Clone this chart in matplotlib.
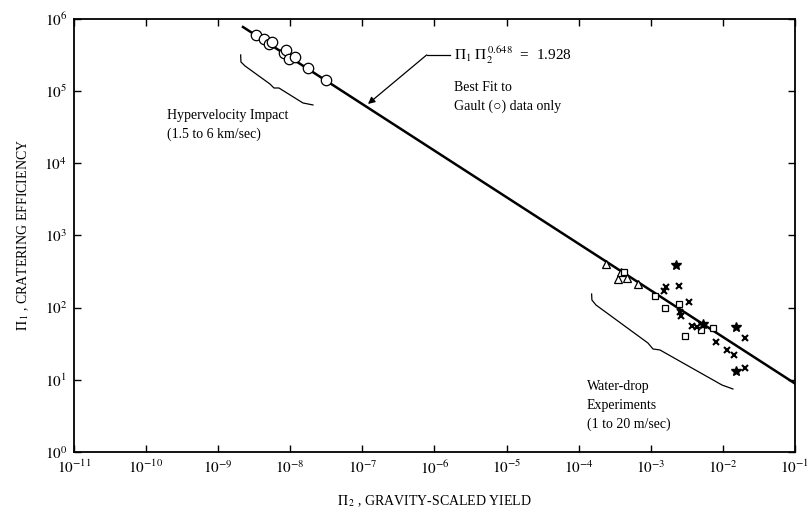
import numpy as np
import matplotlib
matplotlib.use('Agg')
import matplotlib.pyplot as plt

plt.rcParams.update({
    'font.family': ['Liberation Serif', 'DejaVu Sans'],
    'mathtext.fontset': 'stix',
    'font.size': 10,
    'axes.linewidth': 1.3,
})

# Gault hypervelocity impact data (open circles)
gault_x = [3.34e-9, 4.31e-9, 5.07e-9, 5.57e-9, 8.18e-9, 8.7e-9, 9.6e-9, 1.16e-8, 1.76e-8, 3.13e-8]
gault_y = [6.0e5, 5.28e5, 4.5e5, 4.8e5, 3.38e5, 3.72e5, 2.79e5, 2.98e5, 2.1e5, 1.43e5]

# water-drop experiments, by marker group
tri_x = [2.39e-4, 3.48e-4, 3.87e-4, 4.72e-4, 6.58e-4]
tri_y = [405, 251, 310, 256, 214]
sq_x = [4.28e-4, 1.16e-3, 1.60e-3, 2.44e-3, 3.03e-3, 4.97e-3, 7.36e-3]
sq_y = [310, 144, 100, 112, 41, 49.3, 51.7]
cross_x = [1.65e-3, 1.53e-3, 2.46e-3, 3.39e-3, 2.54e-3, 2.62e-3, 3.77e-3, 4.34e-3,
           8.02e-3, 1.14e-2, 1.43e-2, 2.03e-2, 2.03e-2]
cross_y = [194, 170, 202, 119, 87.5, 75.8, 56, 54.7, 33.3, 26.1, 22.0, 37.8, 14.5]
star_x = [2.27e-3, 5.35e-3, 1.52e-2, 1.52e-2]
star_y = [389, 59.7, 54.6, 13.3]

# best fit line endpoints (Pi1 * Pi2^0.648 = 1.928)
fit_x = [2.21e-9, 1e-1]
fit_y = [7.74e5, 8.9]

x_ticks = [10.0 ** e for e in range(-11, 0)]
x_labels = [r'$10^{%d}$' % e for e in range(-11, 0)]
y_ticks = [10.0 ** e for e in range(0, 7)]
y_labels = [r'$10^{%d}$' % e for e in range(0, 7)]

fig = plt.figure(figsize=(8.11, 5.18), dpi=100)
ax = fig.add_axes([0.0912, 0.1274, 0.889, 0.836])
ax.set_xscale('log')
ax.set_yscale('log')
ax.set_xlim(1e-11, 1e-1)
ax.set_ylim(1e0, 1e6)

ax.plot(fit_x, fit_y, color='black', lw=1.8, zorder=2)
ax.plot(gault_x, gault_y, 'o', ms=7.5, mfc='white', mec='black', mew=0.9, zorder=3)
ax.plot(tri_x, tri_y, '^', ms=6, mfc='white', mec='black', mew=0.9, zorder=3)
ax.plot(sq_x, sq_y, 's', ms=5, mfc='white', mec='black', mew=0.9, zorder=3)
ax.plot(cross_x, cross_y, 'x', ms=5, color='black', mew=1.5, zorder=3)
ax.plot(star_x, star_y, '*', ms=7.5, color='black', zorder=3)

ax.set_xticks(x_ticks)
ax.set_xticklabels(x_labels)
ax.set_yticks(y_ticks)
ax.set_yticklabels(y_labels)
ax.minorticks_off()
ax.tick_params(which='major', direction='in', length=5, width=1,
               top=True, right=True, labelsize=11, pad=5)

ax.set_xlabel(r'$\Pi_{\,2}$ , GRAVITY-SCALED YIELD', fontsize=10, labelpad=12)
ax.set_ylabel(r'$\Pi_{\,1}$ , CRATERING EFFICIENCY', fontsize=10, labelpad=10)

# braces
hyper = np.array([(0.2312, 0.9169), (0.2316, 0.9007), (0.2372, 0.8915), (0.2718, 0.8499),
                  (0.2774, 0.8406), (0.2843, 0.8406), (0.3176, 0.8060), (0.3315, 0.8014)])
water = np.array([(0.7180, 0.3649), (0.7184, 0.3510), (0.7240, 0.3395), (0.7961, 0.2517),
                  (0.8031, 0.2379), (0.8128, 0.2356), (0.8988, 0.1547), (0.9140, 0.1455)])
for br in (hyper, water):
    ax.plot(br[:, 0], br[:, 1], color='black', lw=0.9, transform=ax.transAxes)

# annotation arrow to fit line
ax.plot([0.4892, 0.5215], [0.9169, 0.9169], color='black', lw=0.9, transform=ax.transAxes)
ax.annotate('', xy=(0.4078, 0.8037), xytext=(0.4892, 0.9169),
            xycoords='axes fraction', textcoords='axes fraction',
            arrowprops=dict(arrowstyle='-|>', color='black', lw=0.9,
                            mutation_scale=10, shrinkA=0, shrinkB=0))

ax.text(0.527, 0.917, r'$\Pi_1\ \Pi_2^{\,0.648}$  =  1.928', transform=ax.transAxes,
        fontsize=11, va='center', ha='left')
ax.text(0.527, 0.8406, 'Best Fit to', transform=ax.transAxes, fontsize=10, va='center')
ax.text(0.527, 0.799, 'Gault (\u25CB) data only', transform=ax.transAxes, fontsize=10, va='center')

ax.text(0.129, 0.776, 'Hypervelocity Impact', transform=ax.transAxes, fontsize=10, va='center')
ax.text(0.129, 0.734, '(1.5 to 6 km/sec)', transform=ax.transAxes, fontsize=10, va='center')

ax.text(0.7115, 0.152, 'Water-drop', transform=ax.transAxes, fontsize=10, va='center')
ax.text(0.7115, 0.1085, 'Experiments', transform=ax.transAxes, fontsize=10, va='center')
ax.text(0.7115, 0.0647, '(1 to 20 m/sec)', transform=ax.transAxes, fontsize=10, va='center')

fig.savefig('out.png', dpi=100)
